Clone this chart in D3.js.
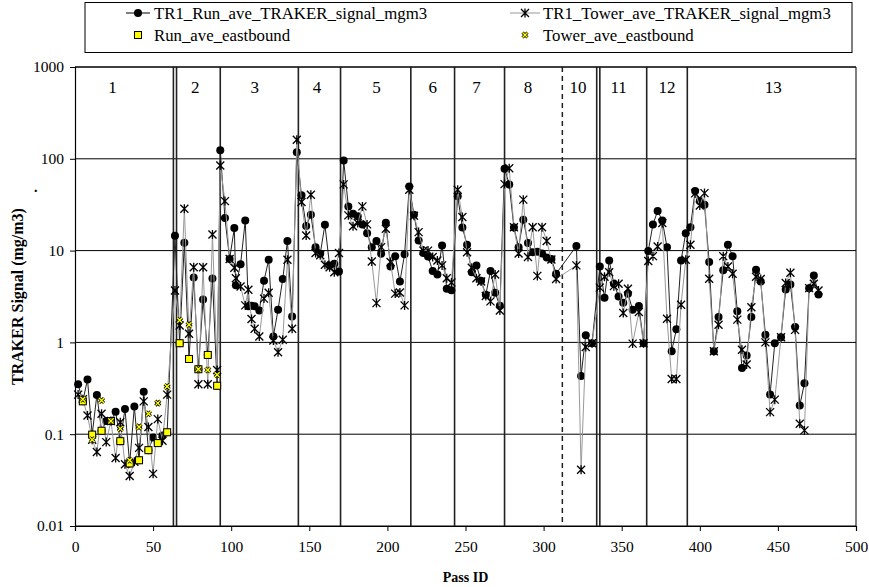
<!DOCTYPE html>
<html>
<head>
<meta charset="utf-8">
<script src="https://cdnjs.cloudflare.com/ajax/libs/d3/7.8.5/d3.min.js"></script>
<style>
  body { margin: 0; background: #fff; }
  text { font-family: "Liberation Serif", "Times New Roman", serif; }
</style>
</head>
<body>
<div id="chart"></div>
<script>
// pass ids and averaged signals (mg/m3)
let passId = [2, 5, 8, 11, 14, 17, 20, 23, 26, 29, 32, 35, 38, 41, 44, 47, 50, 53, 56, 59,
    64, 67, 70, 73, 76, 79, 82, 85, 88, 91,
    93, 96, 99, 102, 103, 106, 109, 111, 113, 115, 118, 121, 124, 127, 130, 133, 136, 139,
    142, 145, 148, 151, 154, 157, 160, 163, 166, 169,
    172, 175, 178, 181, 184, 187, 190, 193, 196, 199, 202, 205, 208, 211,
    214, 217, 220, 223, 226, 229, 232, 235, 238, 241,
    245, 248, 251, 254, 257, 260, 263, 266, 269, 272,
    275, 278, 281, 284, 287, 290, 293, 296, 299, 302, 305, 308,
    321, 324, 327, 331,
    336, 339, 342, 345, 348, 351, 354, 357, 361, 364,
    367, 370, 373, 376, 379, 382, 385, 388, 391,
    394, 397, 400, 403, 406, 409, 412, 415, 418, 421, 424, 427, 430, 433, 436, 439,
    442, 445, 448, 452, 455, 458, 461, 464, 467, 470, 473, 476];

let runSignal = [0.35, 0.228, 0.395, 0.099, 0.267, 0.109, 0.139, 0.139, 0.176, 0.084, 0.188, 0.048, 0.2, 0.052, 0.29, 0.067, 0.092, 0.08, 0.097, 0.105,
    14.5, 0.98, 12.2, 0.66, 5.1, 0.51, 2.94, 0.73, 4.98, 0.337,
    124, 22.6, 8.1, 17.6, 4.2, 7.1, 21.3, 2.47, 2.5, 2.47, 2.23, 4.7, 7.95, 1.16, 2.27, 4.9, 12.7, 1.92,
    118, 40, 18.5, 24.6, 10.9, 9.25, 19.1, 6.9, 7.2, 5.93,
    96, 30.3, 25.2, 23.6, 19.3, 15.5, 10.9, 12.7, 9.25, 20.1, 6.7, 8.7, 4.6, 9.1,
    50, 24.6, 12.9, 9.4, 8.65, 6.0, 5.5, 11.4, 3.85, 3.7,
    39, 17.8, 11.6, 5.8, 6.9, 4.7, 3.3, 6.0, 3.47, 2.5,
    78, 52.6, 17.8, 10.9, 21.7, 12.1, 9.6, 9.7, 9.3, 8.4, 8.1, 5.6,
    11.2, 0.43, 1.2, 0.98,
    6.7, 3.07, 7.8, 4.35, 3.17, 2.7, 3.39, 2.27, 2.49, 0.98,
    9.9, 19.3, 27, 21.3, 10.9, 0.8, 1.39, 7.8, 15.5,
    18, 44.5, 34.6, 31.6, 7.5, 0.8, 1.89, 6.1, 11.6, 8.7, 2.18, 0.525, 0.72, 1.89, 6.2, 4.6,
    1.21, 0.27, 0.98, 1.14, 3.78, 4.28, 1.47, 0.206, 0.36, 3.9, 5.37, 3.33];

let towerSignal = [0.27, 0.24, 0.16, 0.087, 0.064, 0.167, 0.082, 0.139, 0.055, 0.135, 0.047, 0.035, 0.05, 0.071, 0.228, 0.12, 0.037, 0.146, 0.085, 0.27,
    3.68, 1.53, 28.6, 1.24, 6.6, 0.35, 6.6, 0.35, 15, 0.5,
    84.7, 34.6, 8.1, 6.5, 5.0, 4.07, 2.53, 3.75, 1.8, 1.41, 1.16, 3.0, 3.47, 1.05, 0.78, 1.07, 7.95, 1.41,
    161, 33.8, 14.6, 40.6, 9.4, 8.9, 7.0, 6.6, 5.8, 9.4,
    52.6, 24.2, 18.4, 20, 30.3, 19.3, 7.6, 2.68, 10.9, 17.3, 7.5, 3.4, 3.5, 2.53,
    46, 24, 15.9, 10, 10, 8.5, 7.8, 6.9, 5.0, 4.5,
    46, 23.2, 9.6, 6.5, 5.0, 4.6, 3.2, 2.8, 5.5, 2.23,
    53, 79, 18, 9.3, 35.9, 8.5, 18, 5.3, 18, 12.7, 8, 4.9,
    6.9, 0.041, 0.89, 0.98,
    3.95, 5.2, 5.8, 4.1, 4.35, 2.09, 3.84, 0.97, 2.14, 0.98,
    7.7, 8.7, 11.1, 20, 1.81, 0.4, 0.4, 2.57, 7.95,
    11.6, 42, 31, 42.3, 4.94, 0.8, 1.56, 8.7, 6.7, 5.6, 1.77, 0.83, 0.575, 2.42, 5.2, 4.9,
    1.0, 0.174, 0.238, 1.14, 4.43, 5.74, 1.37, 0.13, 0.11, 3.9, 4.35, 3.68];

// eastbound subsets
let eastPass = [5, 11, 17, 23, 29, 35, 41, 47, 53, 59, 67, 73, 79, 85, 91];
let runEast = [0.228, 0.099, 0.109, 0.139, 0.084, 0.048, 0.052, 0.067, 0.08, 0.105, 0.98, 0.66, 0.51, 0.73, 0.337];
let towerEast = [0.24, 0.087, 0.233, 0.139, 0.115, 0.052, 0.12, 0.167, 0.218, 0.33, 1.74, 1.56, 0.51, 0.5, 0.445];

// section boundaries and labels
let sectionLines = [63, 65, 93, 143, 170, 215, 243, 275, 334, 336, 366, 392];
let dashedLines = [312];
let sectionNames = ['1', '2', '3', '4', '5', '6', '7', '8', '10', '11', '12', '13'];
let sectionMid = [24, 77, 115, 155, 193, 229, 257, 290, 322, 348, 379, 447];

let xTicks = [0, 50, 100, 150, 200, 250, 300, 350, 400, 450, 500];
let yTicks = [0.01, 0.1, 1, 10, 100, 1000];

let svgWidth = 869;
let svgHeight = 587;

let margin = {
    top: 67,
    right: 13,
    bottom: 61,
    left: 75
};

let width = svgWidth - margin.left - margin.right;
let height = svgHeight - margin.top - margin.bottom;

let svg = d3.select('#chart')
    .append('svg')
    .attr('width', svgWidth)
    .attr('height', svgHeight);

let chartGroup = svg.append('g')
    .attr('transform', `translate(${margin.left}, ${margin.top})`);

// scales
let xScale = d3.scaleLinear()
    .domain([0, 500])
    .range([0, width]);

let yScale = d3.scaleLog()
    .domain([0.01, 1000])
    .range([height, 0]);

// horizontal grid
chartGroup.selectAll('.hgrid')
    .data(yTicks)
    .enter()
    .append('line')
    .attr('x1', 0)
    .attr('x2', width)
    .attr('y1', d => yScale(d))
    .attr('y2', d => yScale(d))
    .attr('stroke', '#000')
    .attr('stroke-width', 1);

// right border
chartGroup.append('line')
    .attr('x1', width).attr('x2', width)
    .attr('y1', 0).attr('y2', height)
    .attr('stroke', '#000');

// section lines
chartGroup.selectAll('.sec')
    .data(sectionLines)
    .enter()
    .append('line')
    .attr('x1', d => xScale(d))
    .attr('x2', d => xScale(d))
    .attr('y1', 0)
    .attr('y2', height)
    .attr('stroke', '#222')
    .attr('stroke-width', 1.6);

chartGroup.selectAll('.secDash')
    .data(dashedLines)
    .enter()
    .append('line')
    .attr('x1', d => xScale(d))
    .attr('x2', d => xScale(d))
    .attr('y1', 0)
    .attr('y2', height)
    .attr('stroke', '#222')
    .attr('stroke-width', 1.5)
    .attr('stroke-dasharray', '5,4');

// section labels
chartGroup.selectAll('.secLabel')
    .data(sectionNames)
    .enter()
    .append('text')
    .attr('x', (d, i) => xScale(sectionMid[i]))
    .attr('y', 26)
    .attr('text-anchor', 'middle')
    .attr('font-size', '17px')
    .text(d => d);

// axes
let bottomAxis = d3.axisBottom(xScale)
    .tickValues(xTicks)
    .tickSize(5)
    .tickPadding(10);

let leftAxis = d3.axisLeft(yScale)
    .tickValues(yTicks)
    .tickSize(5)
    .tickPadding(6)
    .tickFormat(d => d3.format('~g')(d));

let xAxis = chartGroup.append('g')
    .attr('transform', `translate(0, ${height})`)
    .call(bottomAxis);

let yAxis = chartGroup.append('g')
    .call(leftAxis);

[xAxis, yAxis].forEach(function (ax) {
    ax.select('.domain').attr('stroke', '#000').attr('stroke-width', 1.2);
    ax.selectAll('.tick line').attr('stroke', '#000');
    ax.selectAll('text')
        .attr('font-family', '"Liberation Serif", serif')
        .attr('font-size', '15.5px')
        .attr('fill', '#000');
});

// top border
chartGroup.append('line')
    .attr('x1', 0).attr('x2', width)
    .attr('y1', 0).attr('y2', 0)
    .attr('stroke', '#000');

let runData = passId.map((p, i) => ({ pass: p, value: runSignal[i] }));
let towerData = passId.map((p, i) => ({ pass: p, value: towerSignal[i] }));

let line = d3.line()
    .x(d => xScale(d.pass))
    .y(d => yScale(d.value));

let starPath = 'M-4,-4L4,4M-4,4L4,-4M0,-4.5L0,4.5';
let crossPath = 'M-2.5,-2.5L2.5,2.5M-2.5,2.5L2.5,-2.5';

// run series
chartGroup.append('path')
    .datum(runData)
    .attr('d', line)
    .attr('fill', 'none')
    .attr('stroke', '#222')
    .attr('stroke-width', 1);

chartGroup.selectAll('.runDot')
    .data(runData)
    .enter()
    .append('circle')
    .attr('cx', d => xScale(d.pass))
    .attr('cy', d => yScale(d.value))
    .attr('r', 4)
    .attr('fill', '#000');

// tower series
chartGroup.append('path')
    .datum(towerData)
    .attr('d', line)
    .attr('fill', 'none')
    .attr('stroke', '#999')
    .attr('stroke-width', 1);

chartGroup.selectAll('.towerStar')
    .data(towerData)
    .enter()
    .append('path')
    .attr('transform', d => `translate(${xScale(d.pass)}, ${yScale(d.value)})`)
    .attr('d', starPath)
    .attr('stroke', '#000')
    .attr('stroke-width', 1.3)
    .attr('fill', 'none');

// eastbound markers
chartGroup.selectAll('.runEast')
    .data(eastPass)
    .enter()
    .append('rect')
    .attr('x', (d, i) => xScale(d) - 3.5)
    .attr('y', (d, i) => yScale(runEast[i]) - 3.5)
    .attr('width', 7)
    .attr('height', 7)
    .attr('fill', '#ffff00')
    .attr('stroke', '#000')
    .attr('stroke-width', 1);

let towerEastGroup = chartGroup.selectAll('.towerEast')
    .data(eastPass)
    .enter()
    .append('g')
    .attr('transform', (d, i) => `translate(${xScale(d)}, ${yScale(towerEast[i])})`);

towerEastGroup.append('path')
    .attr('d', crossPath)
    .attr('stroke', '#000')
    .attr('stroke-width', 3);

towerEastGroup.append('path')
    .attr('d', crossPath)
    .attr('stroke', '#ffff00')
    .attr('stroke-width', 1.4);

// axis titles
svg.append('text')
    .attr('transform', `translate(23, ${margin.top + height / 2}) rotate(-90)`)
    .attr('text-anchor', 'middle')
    .attr('font-size', '16px')
    .attr('font-weight', 'bold')
    .text('TRAKER Signal (mg/m3)');

svg.append('text')
    .attr('x', 34)
    .attr('y', 192)
    .attr('font-size', '14px')
    .attr('font-weight', 'bold')
    .text('.');

svg.append('text')
    .attr('x', margin.left + width / 2)
    .attr('y', 582)
    .attr('text-anchor', 'middle')
    .attr('font-size', '14px')
    .attr('font-weight', 'bold')
    .text('Pass ID');

// legend
let legend = svg.append('g');

legend.append('rect')
    .attr('x', 85)
    .attr('y', 2.5)
    .attr('width', 767)
    .attr('height', 50)
    .attr('fill', '#fff')
    .attr('stroke', '#000')
    .attr('stroke-width', 1);

// row 1, left: run
legend.append('line')
    .attr('x1', 126).attr('x2', 150)
    .attr('y1', 13).attr('y2', 13)
    .attr('stroke', '#000');
legend.append('circle')
    .attr('cx', 138).attr('cy', 13).attr('r', 4)
    .attr('fill', '#000');
legend.append('text')
    .attr('x', 154).attr('y', 18.5)
    .attr('font-size', '16.8px')
    .text('TR1_Run_ave_TRAKER_signal_mgm3');

// row 1, right: tower
legend.append('line')
    .attr('x1', 510).attr('x2', 540)
    .attr('y1', 13).attr('y2', 13)
    .attr('stroke', '#999');
legend.append('path')
    .attr('transform', 'translate(525, 13)')
    .attr('d', starPath)
    .attr('stroke', '#000')
    .attr('stroke-width', 1.3);
legend.append('text')
    .attr('x', 543).attr('y', 18.5)
    .attr('font-size', '16.8px')
    .text('TR1_Tower_ave_TRAKER_signal_mgm3');

// row 2, left: run eastbound
legend.append('rect')
    .attr('x', 134.5).attr('y', 31.5)
    .attr('width', 7).attr('height', 7)
    .attr('fill', '#ffff00')
    .attr('stroke', '#000');
legend.append('text')
    .attr('x', 154).attr('y', 40.5)
    .attr('font-size', '16.8px')
    .text('Run_ave_eastbound');

// row 2, right: tower eastbound
legend.append('path')
    .attr('transform', 'translate(525, 35)')
    .attr('d', crossPath)
    .attr('stroke', '#000')
    .attr('stroke-width', 3);
legend.append('path')
    .attr('transform', 'translate(525, 35)')
    .attr('d', crossPath)
    .attr('stroke', '#ffff00')
    .attr('stroke-width', 1.4);
legend.append('text')
    .attr('x', 543).attr('y', 40.5)
    .attr('font-size', '16.8px')
    .text('Tower_ave_eastbound');
</script>
</body>
</html>
